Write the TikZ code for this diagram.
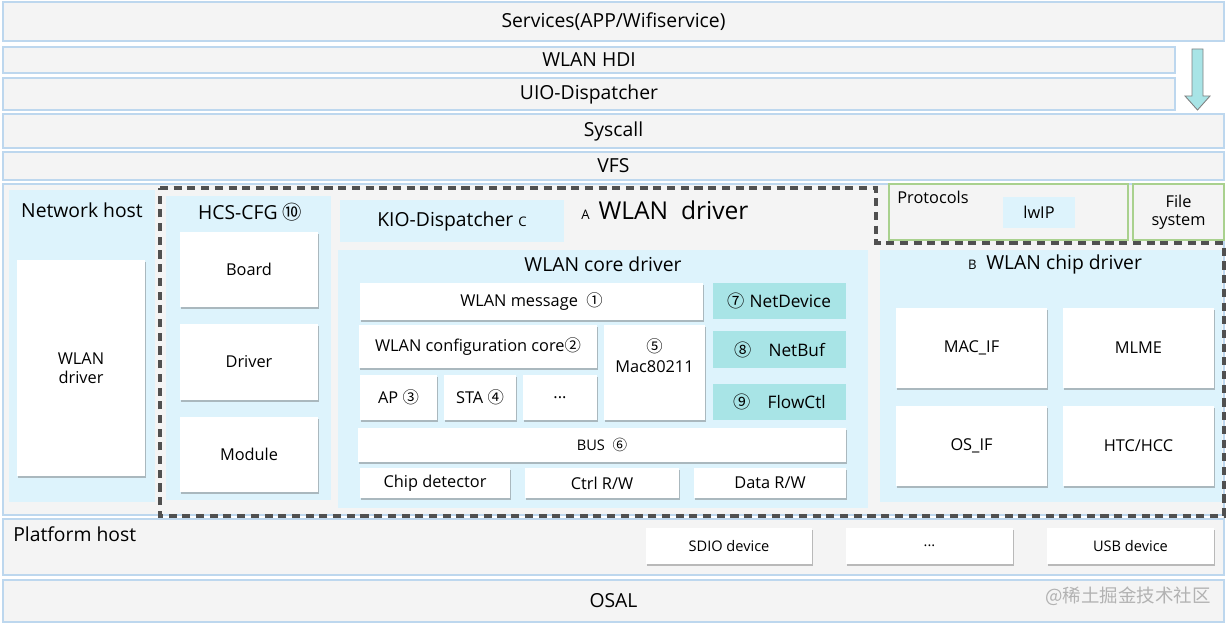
\documentclass[tikz,border=0pt]{standalone}
\usepackage{fontspec}
\setmainfont{Open Sans}
\newfontfamily\cjkfont{Noto Sans CJK SC}
\usetikzlibrary{positioning}
\usetikzlibrary{shadows}
\definecolor{barfill}{HTML}{F4F4F4}
\definecolor{barline}{HTML}{BDD7EE}
\definecolor{zonefill}{HTML}{DDF3FC}
\definecolor{netfill}{HTML}{A8E4E6}
\definecolor{protoline}{HTML}{A9D18E}
\definecolor{dashgray}{HTML}{505050}
\newcommand{\circnum}[1]{{\cjkfont\ifcase#1\or ①\or ②\or ③\or ④\or ⑤\or ⑥\or ⑦\or ⑧\or ⑨\or ⑩\fi}}
\tikzset{
    sz/.style 2 args = {minimum width=#1*0.02cm, minimum height=#2*0.02cm},
    bar/.style = {rectangle, draw=barline, fill=barfill, line width=0.6pt, inner sep=0pt, font=\fontsize{11}{13}\selectfont},
    zone/.style = {rectangle, fill=zonefill, inner sep=0pt},
    cell/.style = {rectangle, fill=white, inner sep=0pt, align=center, font=\fontsize{9.3}{11}\selectfont,
        drop shadow={shadow xshift=0.7pt, shadow yshift=-0.9pt, opacity=0.35, fill=black!70}},
    netcell/.style = {rectangle, fill=netfill, inner sep=0pt, font=\fontsize{9.8}{11}\selectfont},
    proto/.style = {rectangle, draw=protoline, fill=barfill, line width=0.7pt, inner sep=0pt, align=center, font=\fontsize{9.3}{10.5}\selectfont},
    title/.style = {inner sep=0pt, font=\fontsize{11}{13}\selectfont},
    small/.style = {inner sep=0pt, font=\fontsize{8.3}{10}\selectfont},
    outline/.style = {draw=dashgray, line width=2pt, dash pattern=on 4.6pt off 3.2pt},
    downarrow/.style = {draw=gray, fill=netfill, line width=0.5pt, line join=miter}
}
\begin{document}
\begin{tikzpicture}[x=0.02cm, y=-0.02cm]
  \useasboundingbox (0,0) rectangle (1227,625);

  % layer bars
  \node[bar, sz={1221}{39}] (services) at (613.5,21.5) {Services(APP/Wifiservice)};
  \node[bar, sz={1172}{26}] (hdi)      at (589,60)     {WLAN HDI};
  \node[bar, sz={1172}{32}] (uio)      at (589,94)     {UIO-Dispatcher};
  \node[bar, sz={1221}{34}] (syscall)  at (613.5,131)  {Syscall};
  \node[bar, sz={1221}{28}] (vfs)      at (613.5,166)  {VFS};
  \node[bar, sz={1221}{331}] (kernel)  at (613.5,349.5) {};
  \node[bar, sz={1221}{56}] (platform) at (613.5,547)  {};
  \node[bar, sz={1221}{42}] (osal)     at (613.5,601)  {OSAL};

  \draw[downarrow] (1192,49) -- (1203,49) -- (1203,96) -- (1210,96) -- (1197.5,110)
                   -- (1185,96) -- (1192,96) -- cycle;

  % network host
  \node[zone, sz={146}{312}] (nethost) at (82,346) {};
  \node[title] (nethostT) at (82,210) {Network host};
  \node[cell, sz={128}{216}] (hostdrv) at (81,368) {WLAN\\driver};

  % HCS-CFG
  \node[zone, sz={165}{304}] (hcs) at (248.5,348) {};
  \node[title] (hcsT) at (250,212) {HCS-CFG \circnum{10}};
  \node[cell, sz={138}{75}] (board)  at (249,269.5) {Board};
  \node[cell, sz={138}{76}] (driver) at (249,362)   {Driver};
  \node[cell, sz={138}{75}] (module) at (249,454.5) {Module};

  \node[zone, title, sz={224}{42}] (kio) at (452,221) {KIO-Dispatcher {\fontsize{7.5}{9}\selectfont C}};
  \node[inner sep=0pt] (drvT) at (665,210) {{\fontsize{7.5}{9}\selectfont A}\enspace{\fontsize{14}{16}\selectfont WLAN~ driver}};

  % WLAN core driver
  \node[zone, sz={530}{258}] (core) at (603,379) {};
  \node[title] (coreT) at (603,264) {WLAN core driver};
  \node[cell, sz={343}{37}] (msg)     at (531.5,301.5) {WLAN message~ \circnum{1}};
  \node[cell, sz={238}{43}] (cfgcore) at (478,346.5)   {WLAN configuration core\circnum{2}};
  \node[cell, sz={101}{95}, label={[anchor=north, align=center, inner sep=0pt, font=\fontsize{9.3}{11.5}\selectfont, yshift=-0.27cm]north:\circnum{5}\\Mac80211}] (mac) at (654.5,372.5) {};
  \node[cell, sz={77}{45}] (ap)   at (398.5,397.5) {AP \circnum{3}};
  \node[cell, sz={72}{45}] (sta)  at (480,397.5)   {STA \circnum{4}};
  \node[cell, sz={74}{45}] (more) at (560,397.5)   {...};
  \node[netcell, sz={133}{36}] (netdev)  at (779.5,301)   {\circnum{7} NetDevice};
  \node[netcell, sz={133}{37}] (netbuf)  at (779.5,349.5) {\circnum{8}\quad NetBuf};
  \node[netcell, sz={133}{36}] (flowctl) at (779.5,402)   {\circnum{9}\quad FlowCtl};
  \node[cell, sz={488}{34}, font=\fontsize{8.3}{10}\selectfont] (bus) at (602,445) {BUS~ \circnum{6}};
  \node[cell, sz={150}{30}] (chipdet) at (435,483) {Chip detector};
  \node[cell, sz={154}{30}] (ctrlrw)  at (602,483) {Ctrl R/W};
  \node[cell, sz={152}{30}] (datarw)  at (770,483) {Data R/W};

  % protocols and file system
  \node[proto, sz={239}{56}] (proto) at (1008.5,212) {};
  \node[small, font=\fontsize{9.3}{10.5}\selectfont, anchor=west] (protoT) at (897,197) {Protocols};
  \node[zone, sz={72}{31}, font=\fontsize{9.3}{10.5}\selectfont] (lwip) at (1039,212.5) {lwIP};
  \node[proto, sz={91}{56}] (filesys) at (1178.5,212) {File\\system};

  % WLAN chip driver
  \node[zone, sz={342}{252}] (chip) at (1051,376) {};
  \node[title] (chipT) at (1055,264) {{\fontsize{7.5}{9}\selectfont B}\enspace WLAN chip driver};
  \node[cell, sz={151}{80}] (macif) at (971.5,348)  {MAC\_IF};
  \node[cell, sz={151}{80}] (mlme)  at (1138.5,348) {MLME};
  \node[cell, sz={151}{80}] (osif)  at (971.5,446)  {OS\_IF};
  \node[cell, sz={151}{80}] (htc)   at (1138.5,446) {HTC/HCC};

  % WLAN driver outline
  \draw[outline] (160,188) -- (876,188) -- (876,243) -- (1224,243) -- (1224,516) -- (160,516) -- cycle;

  % platform host
  \node[title, anchor=west] (platT) at (13,534) {Platform host};
  \node[cell, sz={166}{36}, font=\fontsize{8.3}{10}\selectfont] (sdio) at (729,546)    {SDIO device};
  \node[cell, sz={167}{36}, font=\fontsize{8.3}{10}\selectfont] (pdev) at (929.5,546)  {...};
  \node[cell, sz={167}{36}, font=\fontsize{8.3}{10}\selectfont] (usb)  at (1130.5,546) {USB device};

  \node[inner sep=0pt, text=gray!60, font=\cjkfont\fontsize{10.5}{12}\selectfont] (mark) at (1128,596) {@稀土掘金技术社区};
\end{tikzpicture}
\end{document}
